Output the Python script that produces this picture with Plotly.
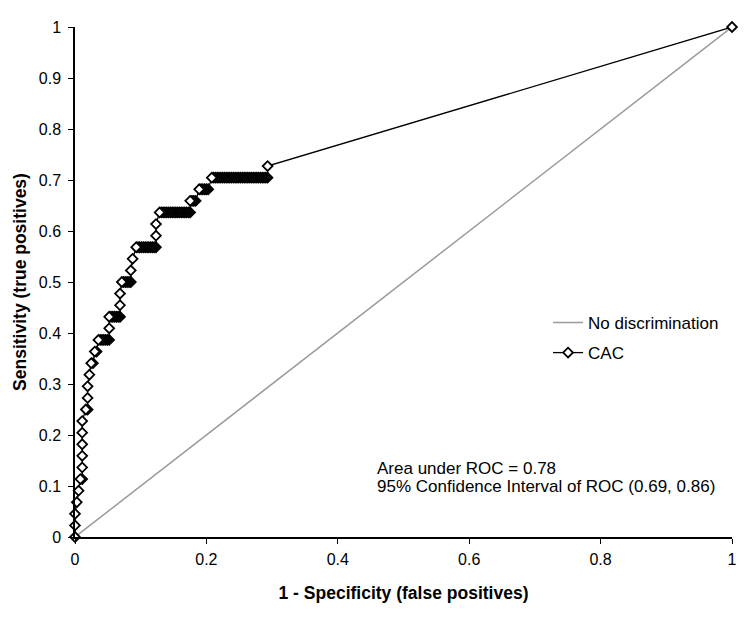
import plotly.graph_objects as go

# ROC data: counts of false / true positives at each threshold
N_NEG = 365
N_POS = 44
FP_COUNTS = [0, 0, 0, 1, 2, 3, 4, 4, 4, 4, 4, 4, 6, 7, 7, 7, 8, 9, 10, 11, 12,
             13, 14, 15, 16, 17, 18, 19,
             19,
             19, 20, 21, 22, 23, 24, 25,
             25, 25,
             26, 27, 28, 29, 30, 31,
             31, 32,
             34, 35, 36, 37, 38, 39, 40, 41, 42, 43, 44, 45,
             45, 45,
             47, 48, 49, 50, 51, 52, 53, 54, 55, 56, 57, 58, 59, 60, 61, 62, 63, 64,
             64, 65, 66, 67,
             69, 70, 71, 72, 73, 74,
             76, 77, 78, 79, 80, 81, 82, 83, 84, 85, 86, 87, 88, 89, 90, 91,
             92, 93, 94, 95, 96, 97, 98, 99, 100, 101, 102, 103, 104, 105, 106, 107,
             107, 365]
TP_COUNTS = [0, 1, 2, 3, 4, 5, 5, 6, 7, 8, 9, 10, 11, 11, 12, 13, 14, 15, 15, 16, 16,
             17, 17, 17, 17, 17, 17, 17,
             18,
             19, 19, 19, 19, 19, 19, 19,
             20, 21,
             22, 22, 22, 22, 22, 22,
             23, 24,
             25, 25, 25, 25, 25, 25, 25, 25, 25, 25, 25, 25,
             26, 27,
             28, 28, 28, 28, 28, 28, 28, 28, 28, 28, 28, 28, 28, 28, 28, 28, 28, 28,
             29, 29, 29, 29,
             30, 30, 30, 30, 30, 30,
             31, 31, 31, 31, 31, 31, 31, 31, 31, 31, 31, 31, 31, 31, 31, 31,
             31, 31, 31, 31, 31, 31, 31, 31, 31, 31, 31, 31, 31, 31, 31, 31,
             32, 44]

DIAG_X = [0, 1]
DIAG_Y = [0, 1]

X_TICKS = [0, 0.2, 0.4, 0.6, 0.8, 1]
X_TICK_LABELS = ["0", "0.2", "0.4", "0.6", "0.8", "1"]
Y_TICKS = [0, 0.1, 0.2, 0.3, 0.4, 0.5, 0.6, 0.7, 0.8, 0.9, 1]
Y_TICK_LABELS = ["0", "0.1", "0.2", "0.3", "0.4", "0.5", "0.6", "0.7", "0.8", "0.9", "1"]

AUC_TEXT = "Area under ROC = 0.78"
CI_TEXT = "95% Confidence Interval of ROC (0.69, 0.86)"

fpr = [f / N_NEG for f in FP_COUNTS]
tpr = [t / N_POS for t in TP_COUNTS]
# draw from high to low so the leftmost marker of each run sits on top
fpr_r = fpr[::-1]
tpr_r = tpr[::-1]

FONT = "Liberation Sans, Arial, sans-serif"

fig = go.Figure()
fig.add_trace(go.Scatter(
    x=DIAG_X, y=DIAG_Y, mode="lines", name="No discrimination",
    legendgroup="a",
    line=dict(color="#9a9a9a", width=1.5), cliponaxis=False,
))
fig.add_trace(go.Scatter(
    x=fpr_r, y=tpr_r, mode="lines+markers", name="CAC",
    legendgroup="b",
    line=dict(color="black", width=1.3),
    marker=dict(symbol="diamond", size=7.5, color="white",
                line=dict(color="black", width=1.8)),
    cliponaxis=False,
))

fig.add_annotation(x=0.456, y=0.135, xref="paper", yref="paper", text=AUC_TEXT,
                   showarrow=False, xanchor="left", yanchor="middle",
                   font=dict(family=FONT, size=17, color="black"))
fig.add_annotation(x=0.456, y=0.099, xref="paper", yref="paper", text=CI_TEXT,
                   showarrow=False, xanchor="left", yanchor="middle",
                   font=dict(family=FONT, size=17, color="black"))

fig.update_layout(
    width=742, height=609,
    margin=dict(l=67, r=18, t=19, b=80),
    paper_bgcolor="white", plot_bgcolor="white",
    font=dict(family=FONT, size=16, color="black"),
    showlegend=True,
    legend=dict(x=0.72, y=0.455, xanchor="left", yanchor="top",
                bgcolor="rgba(0,0,0,0)", font=dict(family=FONT, size=17),
                itemwidth=30, tracegroupgap=5, traceorder="grouped"),
    xaxis=dict(range=[0, 1], tickvals=X_TICKS, ticktext=X_TICK_LABELS,
               showgrid=False, zeroline=False, showline=True, linecolor="black",
               linewidth=1.5, ticks="outside", ticklen=5, tickcolor="black",
               tickwidth=1.3, ticklabelstandoff=2, automargin=False,
               tickfont=dict(family=FONT, size=16),
               title=dict(text="<b>1 - Specificity (false positives)</b>",
                          font=dict(family=FONT, size=17.5), standoff=20)),
    yaxis=dict(range=[0, 1], tickvals=Y_TICKS, ticktext=Y_TICK_LABELS,
               showgrid=False, zeroline=False, showline=True, linecolor="black",
               linewidth=1.5, ticks="outside", ticklen=5, tickcolor="black",
               tickwidth=1.3, ticklabelstandoff=4, automargin=False,
               tickfont=dict(family=FONT, size=16),
               title=dict(text="<b>Sensitivity (true positives)</b>",
                          font=dict(family=FONT, size=17.5), standoff=8)),
)

fig.write_html("out.html")
